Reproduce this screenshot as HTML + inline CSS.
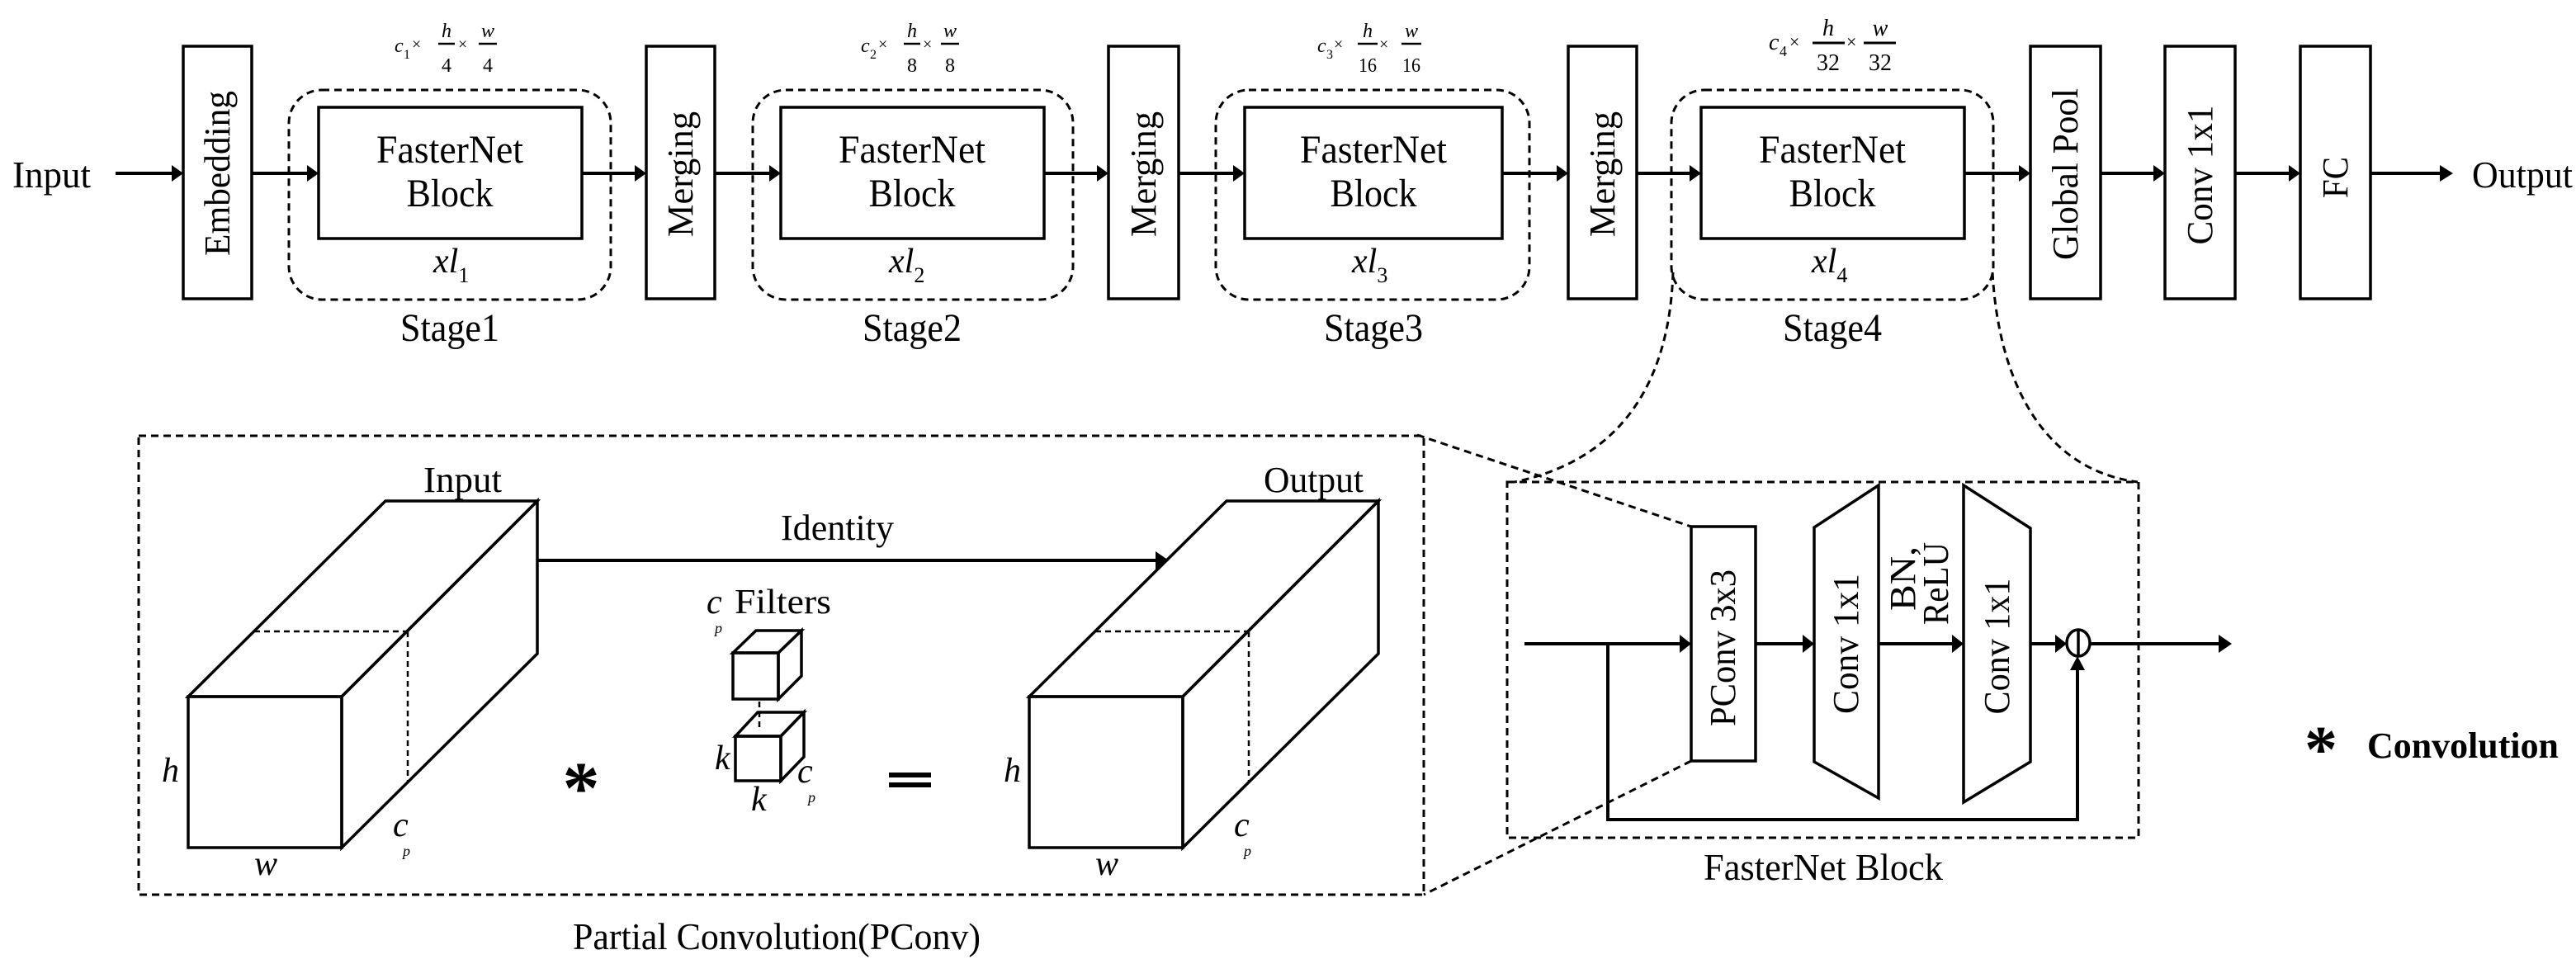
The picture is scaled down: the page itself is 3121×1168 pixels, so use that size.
<!DOCTYPE html>
<html><head><meta charset="utf-8"><style>
html,body{margin:0;padding:0;background:#fff;}
svg{display:block;}
text{font-family:"Liberation Serif",serif;fill:#000;}
</style></head><body>
<svg width="3121" height="1168" viewBox="0 0 3121 1168" xmlns="http://www.w3.org/2000/svg">
<g fill="none" stroke="#000" stroke-width="3.5">
<rect x="222" y="56" width="83" height="306"/>
<rect x="783" y="56" width="83" height="306"/>
<rect x="1343" y="56" width="85" height="306"/>
<rect x="1900" y="56" width="83" height="306"/>
<rect x="2460" y="56" width="85" height="306"/>
<rect x="2623" y="56" width="85" height="306"/>
<rect x="2787" y="56" width="85" height="306"/>
<rect x="386" y="130" width="319" height="159"/>
<rect x="946" y="130" width="319" height="159"/>
<rect x="1508" y="130" width="312" height="159"/>
<rect x="2061" y="130" width="319" height="159"/>
</g>
<g fill="none" stroke="#000" stroke-width="3" stroke-dasharray="9 6">
<rect x="350" y="109" width="390" height="254" rx="40"/>
<rect x="912" y="109" width="388" height="254" rx="40"/>
<rect x="1473" y="109" width="380" height="254" rx="40"/>
<rect x="2025" y="109" width="390" height="254" rx="40"/>
<path d="M2027 330 C2022 480 1950 560 1835 584"/>
<path d="M2414 330 C2422 470 2480 570 2590 584"/>
<rect x="168" y="528" width="1557" height="556"/>
<rect x="1826" y="584" width="765" height="431"/>
<path d="M1717 527 L2049 638"/>
<path d="M2049 922 L1725 1084"/>
</g>
<g stroke="#000" stroke-width="4">
<line x1="140" y1="210" x2="212" y2="210"/>
<line x1="305" y1="210" x2="376" y2="210"/>
<line x1="705" y1="210" x2="773" y2="210"/>
<line x1="866" y1="210" x2="936" y2="210"/>
<line x1="1265" y1="210" x2="1333" y2="210"/>
<line x1="1428" y1="210" x2="1498" y2="210"/>
<line x1="1820" y1="210" x2="1890" y2="210"/>
<line x1="1983" y1="210" x2="2051" y2="210"/>
<line x1="2380" y1="210" x2="2450" y2="210"/>
<line x1="2545" y1="210" x2="2613" y2="210"/>
<line x1="2708" y1="210" x2="2777" y2="210"/>
<line x1="2872" y1="210" x2="2960" y2="210"/>
</g>
<g fill="#000">
<polygon points="222,210 208,200 208,220"/>
<polygon points="386,210 372,200 372,220"/>
<polygon points="783,210 769,200 769,220"/>
<polygon points="946,210 932,200 932,220"/>
<polygon points="1343,210 1329,200 1329,220"/>
<polygon points="1508,210 1494,200 1494,220"/>
<polygon points="1900,210 1886,200 1886,220"/>
<polygon points="2061,210 2047,200 2047,220"/>
<polygon points="2460,210 2446,200 2446,220"/>
<polygon points="2623,210 2609,200 2609,220"/>
<polygon points="2787,210 2773,200 2773,220"/>
<polygon points="2972,210 2956,200 2956,220"/>
</g>
<text x="15" y="227" font-size="46" textLength="95" lengthAdjust="spacingAndGlyphs">Input</text>
<text x="2995" y="227" font-size="46" textLength="122" lengthAdjust="spacingAndGlyphs">Output</text>
<g font-size="48" text-anchor="middle">
<text x="545" y="197" textLength="178" lengthAdjust="spacingAndGlyphs">FasterNet</text><text x="545" y="250" textLength="105" lengthAdjust="spacingAndGlyphs">Block</text>
<text x="1105" y="197" textLength="178" lengthAdjust="spacingAndGlyphs">FasterNet</text><text x="1105" y="250" textLength="105" lengthAdjust="spacingAndGlyphs">Block</text>
<text x="1664" y="197" textLength="178" lengthAdjust="spacingAndGlyphs">FasterNet</text><text x="1664" y="250" textLength="105" lengthAdjust="spacingAndGlyphs">Block</text>
<text x="2220" y="197" textLength="178" lengthAdjust="spacingAndGlyphs">FasterNet</text><text x="2220" y="250" textLength="105" lengthAdjust="spacingAndGlyphs">Block</text>
<text x="545" y="413" textLength="120" lengthAdjust="spacingAndGlyphs">Stage1</text>
<text x="1105" y="413" textLength="120" lengthAdjust="spacingAndGlyphs">Stage2</text>
<text x="1664" y="413" textLength="120" lengthAdjust="spacingAndGlyphs">Stage3</text>
<text x="2220" y="413" textLength="120" lengthAdjust="spacingAndGlyphs">Stage4</text>
</g>
<g font-size="42" font-style="italic">
<text x="525" y="330">xl<tspan font-size="26" dy="12" font-style="normal">1</tspan></text>
<text x="1077" y="330">xl<tspan font-size="26" dy="12" font-style="normal">2</tspan></text>
<text x="1638" y="330">xl<tspan font-size="26" dy="12" font-style="normal">3</tspan></text>
<text x="2195" y="330">xl<tspan font-size="26" dy="12" font-style="normal">4</tspan></text>
</g>
<g font-size="44" text-anchor="middle">
<text transform="translate(264,210) rotate(-90)" dy="14" textLength="200" lengthAdjust="spacingAndGlyphs">Embedding</text>
<text transform="translate(825,211) rotate(-90)" dy="14" textLength="152" lengthAdjust="spacingAndGlyphs">Merging</text>
<text transform="translate(1386,211) rotate(-90)" dy="14" textLength="152" lengthAdjust="spacingAndGlyphs">Merging</text>
<text transform="translate(1942,211) rotate(-90)" dy="14" textLength="152" lengthAdjust="spacingAndGlyphs">Merging</text>
<text transform="translate(2503,211) rotate(-90)" dy="14" textLength="208" lengthAdjust="spacingAndGlyphs">Global Pool</text>
<text transform="translate(2666,212) rotate(-90)" dy="14" textLength="169" lengthAdjust="spacingAndGlyphs">Conv 1x1</text>
<text transform="translate(2830,215) rotate(-90)" dy="14" textLength="50" lengthAdjust="spacingAndGlyphs">FC</text>
</g>
<g font-size="24">
<g>
<text x="478" y="63" font-style="italic">c</text><text x="489" y="71" font-size="16">1</text>
<text x="499" y="60" font-size="20">×</text>
<text x="541" y="45" text-anchor="middle" font-style="italic">h</text><line x1="531" y1="53" x2="551" y2="53" stroke="#000" stroke-width="2.5"/><text x="541" y="87" text-anchor="middle">4</text>
<text x="555" y="60" font-size="20">×</text>
<text x="591" y="45" text-anchor="middle" font-style="italic">w</text><line x1="580" y1="53" x2="602" y2="53" stroke="#000" stroke-width="2.5"/><text x="591" y="87" text-anchor="middle">4</text>
</g>
<g>
<text x="1043" y="63" font-style="italic">c</text><text x="1054" y="71" font-size="16">2</text>
<text x="1064" y="60" font-size="20">×</text>
<text x="1105" y="45" text-anchor="middle" font-style="italic">h</text><line x1="1095" y1="53" x2="1115" y2="53" stroke="#000" stroke-width="2.5"/><text x="1105" y="87" text-anchor="middle">8</text>
<text x="1118" y="60" font-size="20">×</text>
<text x="1151" y="45" text-anchor="middle" font-style="italic">w</text><line x1="1140" y1="53" x2="1162" y2="53" stroke="#000" stroke-width="2.5"/><text x="1151" y="87" text-anchor="middle">8</text>
</g>
<g>
<text x="1596" y="63" font-style="italic">c</text><text x="1607" y="71" font-size="16">3</text>
<text x="1616" y="60" font-size="20">×</text>
<text x="1657" y="45" text-anchor="middle" font-style="italic">h</text><line x1="1645" y1="53" x2="1669" y2="53" stroke="#000" stroke-width="2.5"/><text x="1657" y="87" text-anchor="middle" textLength="22" lengthAdjust="spacingAndGlyphs">16</text>
<text x="1671" y="60" font-size="20">×</text>
<text x="1710" y="45" text-anchor="middle" font-style="italic">w</text><line x1="1698" y1="53" x2="1722" y2="53" stroke="#000" stroke-width="2.5"/><text x="1710" y="87" text-anchor="middle" textLength="22" lengthAdjust="spacingAndGlyphs">16</text>
</g>
<g font-size="28">
<text x="2143" y="60" font-style="italic">c</text><text x="2156" y="68" font-size="18">4</text>
<text x="2168" y="58" font-size="22">×</text>
<text x="2215" y="43" text-anchor="middle" font-style="italic">h</text><line x1="2196" y1="52" x2="2235" y2="52" stroke="#000" stroke-width="3"/><text x="2215" y="85" text-anchor="middle">32</text>
<text x="2237" y="58" font-size="22">×</text>
<text x="2278" y="43" text-anchor="middle" font-style="italic">w</text><line x1="2258" y1="52" x2="2297" y2="52" stroke="#000" stroke-width="3"/><text x="2278" y="85" text-anchor="middle">32</text>
</g>
</g>
<g fill="none" stroke="#000" stroke-width="3.5" stroke-linejoin="miter">
<polygon points="228,844 414,844 414,1027 228,1027"/>
<polygon points="228,844 467,607 651,607 414,844"/>
<polygon points="414,844 651,607 651,792 414,1027"/>
<polygon points="1247,844 1433,844 1433,1027 1247,1027"/>
<polygon points="1247,844 1486,607 1670,607 1433,844"/>
<polygon points="1433,844 1670,607 1670,792 1433,1027"/>
<polygon points="888,791 943,791 943,847 888,847"/>
<polygon points="888,791 916,764 971,764 943,791"/>
<polygon points="943,791 971,764 971,819 943,847"/>
<polygon points="891,892 946,892 946,946 891,946"/>
<polygon points="891,892 918,863 974,863 946,892"/>
<polygon points="946,892 974,863 974,917 946,946"/>
</g>
<g fill="none" stroke="#000" stroke-width="2.5" stroke-dasharray="7 5">
<line x1="308" y1="765" x2="494" y2="765"/>
<line x1="494" y1="765" x2="494" y2="948"/>
<line x1="1327" y1="765" x2="1513" y2="765"/>
<line x1="1513" y1="765" x2="1513" y2="948"/>
<line x1="920" y1="850" x2="920" y2="885"/>
</g>
<line x1="651" y1="679" x2="1400" y2="679" stroke="#000" stroke-width="4"/>
<polygon points="1416,679 1400,668 1400,690" fill="#000"/>
<text x="513" y="596" font-size="44" textLength="95" lengthAdjust="spacingAndGlyphs">Input</text>
<text x="1531" y="596" font-size="44" textLength="121" lengthAdjust="spacingAndGlyphs">Output</text>
<text x="946" y="654" font-size="44" textLength="137" lengthAdjust="spacingAndGlyphs">Identity</text>
<text x="890" y="743" font-size="42" textLength="117" lengthAdjust="spacingAndGlyphs">Filters</text>
<g font-style="italic" font-size="42">
<text x="856" y="743">c</text>
<text x="196" y="947">h</text><text x="308" y="1060">w</text>
<text x="476" y="1013">c</text>
<text x="1216" y="947">h</text><text x="1327" y="1060">w</text>
<text x="1495" y="1013">c</text>
<text x="866" y="932">k</text><text x="910" y="982">k</text>
<text x="966" y="948">c</text>
</g>
<g font-style="italic" font-size="18">
<text x="866" y="767">p</text>
<text x="488" y="1037">p</text>
<text x="1507" y="1037">p</text>
<text x="979" y="972">p</text>
</g>
<text x="704" y="985" font-size="90" font-weight="bold" text-anchor="middle">*</text>
<rect x="1077" y="936" width="51" height="6" fill="#000"/>
<rect x="1077" y="948" width="51" height="6" fill="#000"/>
<text x="941" y="1150" font-size="46" text-anchor="middle" textLength="494" lengthAdjust="spacingAndGlyphs">Partial Convolution(PConv)</text>
<g fill="none" stroke="#000" stroke-width="3.5">
<rect x="2049" y="638" width="78" height="284"/>
<polygon points="2198,639 2276,588 2276,967 2198,923"/>
<polygon points="2379,588 2460,640 2460,923 2379,972"/>
<ellipse cx="2518" cy="779" rx="14" ry="16"/>
<line x1="2518" y1="763" x2="2518" y2="795"/>
</g>
<g stroke="#000" stroke-width="4" fill="none">
<line x1="1847" y1="780" x2="2037" y2="780"/>
<line x1="2127" y1="780" x2="2186" y2="780"/>
<line x1="2276" y1="780" x2="2367" y2="780"/>
<line x1="2460" y1="780" x2="2492" y2="780"/>
<line x1="2532" y1="780" x2="2690" y2="780"/>
<polyline points="1948,780 1948,993 2517,993 2517,808"/>
</g>
<g fill="#000">
<polygon points="2049,780 2035,769 2035,791"/>
<polygon points="2198,780 2184,769 2184,791"/>
<polygon points="2379,780 2365,769 2365,791"/>
<polygon points="2504,780 2490,769 2490,791"/>
<polygon points="2704,780 2688,769 2688,791"/>
<polygon points="2517,795 2508,812 2526,812"/>
</g>
<g font-size="44" text-anchor="middle">
<text transform="translate(2088,785) rotate(-90)" dy="14" textLength="190" lengthAdjust="spacingAndGlyphs">PConv 3x3</text>
<text transform="translate(2237,780) rotate(-90)" dy="14" textLength="170" lengthAdjust="spacingAndGlyphs">Conv 1x1</text>
<text transform="translate(2420,783) rotate(-90)" dy="14" textLength="165" lengthAdjust="spacingAndGlyphs">Conv 1x1</text>
<text transform="translate(2306,701) rotate(-90)" dy="14" textLength="78" lengthAdjust="spacingAndGlyphs">BN,</text>
<text transform="translate(2346,707) rotate(-90)" dy="14" textLength="100" lengthAdjust="spacingAndGlyphs">ReLU</text>
</g>
<text x="2209" y="1066" font-size="46" text-anchor="middle" textLength="290" lengthAdjust="spacingAndGlyphs">FasterNet Block</text>
<text x="2812" y="935" font-size="80" font-weight="bold" text-anchor="middle">*</text>
<text x="2868" y="918" font-size="44" font-weight="bold" textLength="232" lengthAdjust="spacingAndGlyphs">Convolution</text>
</svg>
</body></html>
